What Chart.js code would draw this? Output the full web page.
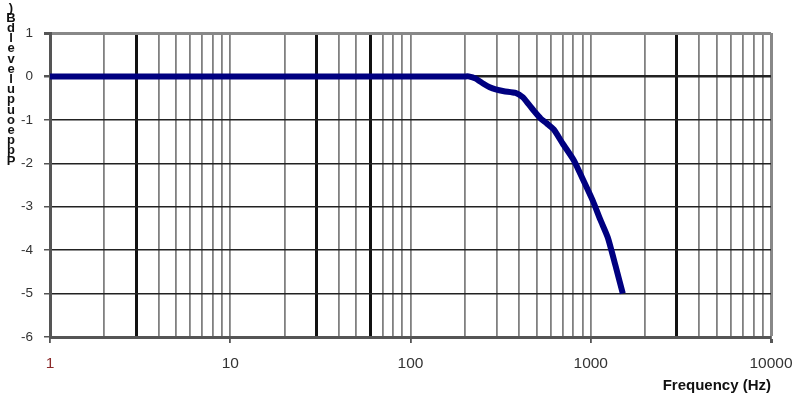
<!DOCTYPE html>
<html>
<head>
<meta charset="utf-8">
<script src="https://cdn.jsdelivr.net/npm/chart.js@4/dist/chart.umd.min.js"></script>
<style>
  html, body { margin: 0; padding: 0; background: #fff; }
  #wrap { width: 794px; height: 398px; }
</style>
</head>
<body>
<div id="wrap"><canvas id="chart" width="794" height="398"></canvas></div>
<script>
// data
var frequency = [1, 2, 5, 10, 20, 50, 100, 150, 200, 210, 230, 254, 275, 297, 330, 383, 420, 452, 490, 528, 570, 623, 700, 805, 900, 1026, 1130, 1243, 1370, 1506];
var level = [0, 0, 0, 0, 0, 0, 0, 0, 0, 0, -0.05, -0.17, -0.25, -0.3, -0.34, -0.38, -0.48, -0.64, -0.82, -0.97, -1.08, -1.22, -1.55, -1.93, -2.35, -2.86, -3.3, -3.71, -4.35, -5.0];
var xTickLabels = [1, 10, 100, 1000, 10000];
var heavyLines = [3, 30, 60, 3000];
var yTitleChars = [")", "B", "d", "l", "e", "v", "e", "l", "u", "p", "u", "o", "e", "p", "p", "P"];

var points = [];
for (var i = 0; i < frequency.length; i++) {
    points.push({ x: frequency[i], y: level[i] });
}

var isHeavy = function(v) {
    for (var i = 0; i < heavyLines.length; i++) {
        if (Math.abs(v - heavyLines[i]) < 1e-6) return true;
    }
    return false;
};
var isMajor = function(v) {
    return xTickLabels.indexOf(v) !== -1;
};

var FONT = "Arial, 'Liberation Sans', sans-serif";

// stacked letters on the left, as in the picture
var yTitlePlugin = {
    id: "yTitle",
    afterDraw: function(chart) {
        var ctx = chart.ctx;
        ctx.save();
        ctx.font = "bold 13px " + FONT;
        ctx.fillStyle = "#111";
        ctx.textAlign = "center";
        ctx.textBaseline = "middle";
        for (var i = 0; i < yTitleChars.length; i++) {
            ctx.fillText(yTitleChars[i], 11, 8 + i * 10.2);
        }
        ctx.restore();
    }
};

var config = {
    type: "scatter",
    data: {
        datasets: [{
            data: points,
            showLine: true,
            borderColor: "#000080",
            backgroundColor: "#000080",
            borderWidth: 6,
            pointRadius: 0,
            tension: 0.2
        }]
    },
    options: {
        responsive: false,
        animation: false,
        layout: { padding: { top: 33, right: 23, left: 0, bottom: 0 } },
        plugins: { legend: { display: false }, tooltip: { enabled: false } },
        scales: {
            x: {
                type: "logarithmic",
                min: 1,
                max: 10000,
                afterBuildTicks: function(scale) {
                    var t = [];
                    for (var d = 1; d < 10000; d *= 10) {
                        for (var m = 1; m < 10; m++) t.push({ value: m * d });
                    }
                    t.push({ value: 10000 });
                    scale.ticks = t;
                },
                afterFit: function(scale) {
                    scale.height = 61;
                    scale.paddingLeft = 0;
                    scale.paddingRight = 0;
                },
                ticks: {
                    autoSkip: false,
                    maxRotation: 0,
                    padding: 11,
                    font: { family: FONT, size: 15.5 },
                    color: function(c) { return c.tick && c.tick.value === 1 ? "#8b2a2a" : "#333"; },
                    callback: function(v) { return isMajor(v) ? String(v) : ""; }
                },
                grid: {
                    drawOnChartArea: true,
                    tickLength: 6,
                    color: function(c) {
                        var v = c.tick ? c.tick.value : 0;
                        if (v === 10000) return "#888";
                        return isHeavy(v) ? "#111" : "#808080";
                    },
                    lineWidth: function(c) {
                        var v = c.tick ? c.tick.value : 0;
                        if (v === 10000) return 3;
                        return isHeavy(v) ? 3 : 1.8;
                    },
                    tickColor: function(c) {
                        var v = c.tick ? c.tick.value : 0;
                        return isMajor(v) ? "#555" : "rgba(0,0,0,0)";
                    }
                },
                border: { color: "#555", width: 3 },
                title: {
                    display: true,
                    text: "Frequency (Hz)",
                    align: "end",
                    color: "#111",
                    font: { family: FONT, size: 15, weight: "bold" },
                    padding: { top: 0, bottom: 3 }
                }
            },
            y: {
                min: -6,
                max: 1,
                afterFit: function(scale) { scale.width = 50; },
                ticks: {
                    stepSize: 1,
                    padding: 11,
                    font: { family: FONT, size: 13.5 },
                    color: "#333"
                },
                grid: {
                    tickLength: 6,
                    color: function(c) {
                        var v = c.tick ? c.tick.value : 0;
                        return v === 1 ? "#888" : "#222";
                    },
                    lineWidth: function(c) {
                        var v = c.tick ? c.tick.value : 0;
                        if (v === 1) return 3;
                        return v === 0 ? 2.5 : 1.5;
                    },
                    tickColor: "#555"
                },
                border: { color: "#555", width: 3 }
            }
        }
    },
    plugins: [yTitlePlugin]
};

var ctx = document.getElementById("chart").getContext("2d");
var oneChart = new Chart(ctx, config);
</script>
</body>
</html>
